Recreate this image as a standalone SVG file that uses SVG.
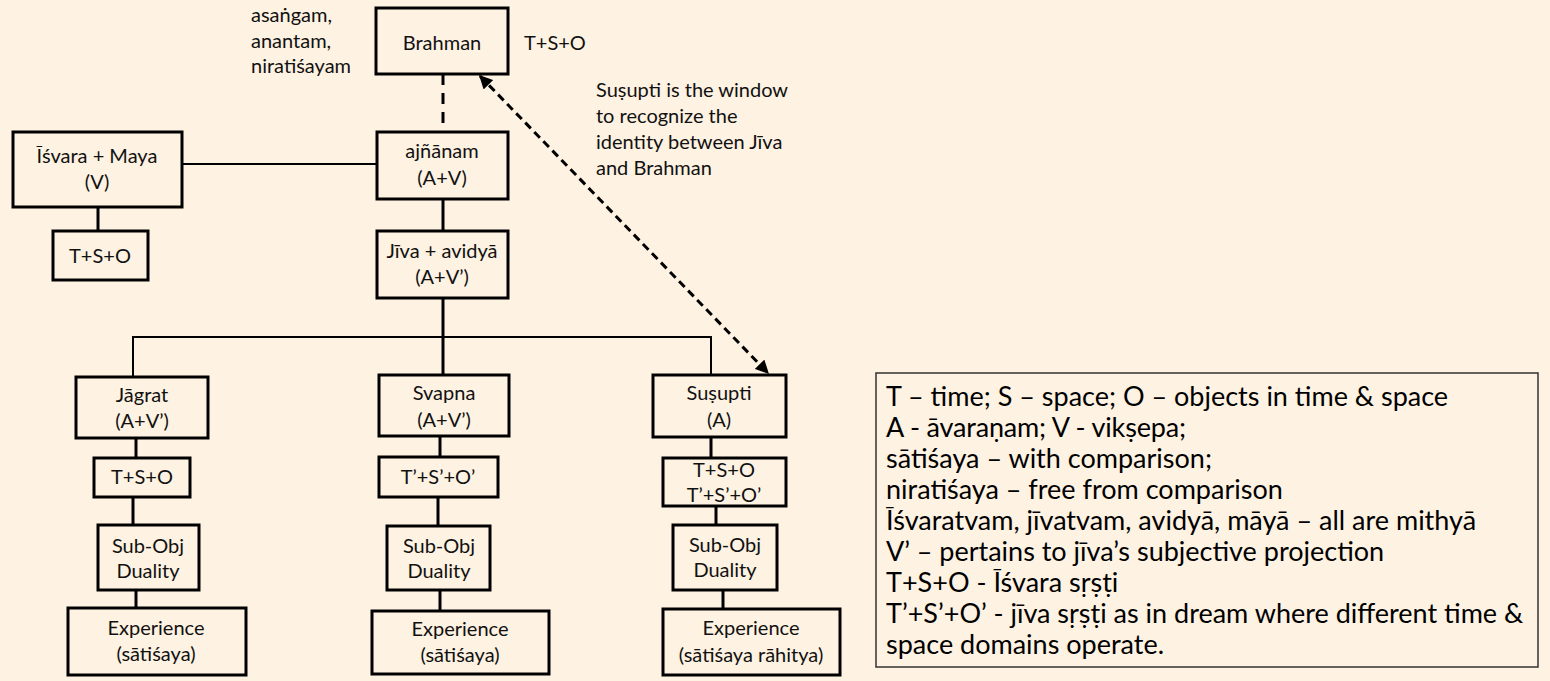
<svg xmlns="http://www.w3.org/2000/svg" width="1550" height="681" viewBox="0 0 1550 681">
<style>
.bx{fill:none;stroke:#000;stroke-width:3}
.t{font-family:Lato,"Liberation Sans",sans-serif;font-size:20px;fill:#111;text-anchor:middle}
.tl{font-family:Lato,"Liberation Sans",sans-serif;font-size:20px;fill:#111}
.lg{font-family:Lato,"Liberation Sans",sans-serif;font-size:27px;fill:#000}
.c{stroke:#000;stroke-width:3;fill:none}
.c2{stroke:#000;stroke-width:2;fill:none}
</style>
<defs>
<marker id="ah" viewBox="0 0 10 10" refX="9" refY="5" markerWidth="4.5" markerHeight="4.5" orient="auto-start-reverse" markerUnits="strokeWidth">
<path d="M0,0 L10,5 L0,10 z" fill="#000"/>
</marker>
</defs>
<rect width="1550" height="681" fill="#FEF2E2"/>

<g id="connectors">
<line class="c" x1="443" y1="74" x2="443" y2="132" stroke-dasharray="11 8"/>
<line class="c" x1="480" y1="76" x2="768" y2="373" stroke-dasharray="8 5" marker-start="url(#ah)" marker-end="url(#ah)"/>
<line class="c2" x1="182" y1="164" x2="377" y2="164" stroke-width="2.5"/>
<line class="c" x1="98" y1="207" x2="98" y2="231"/>
<line class="c" x1="443" y1="199" x2="443" y2="231"/>
<line class="c" x1="443" y1="298" x2="443" y2="375"/>
<polyline class="c2" points="133,377 133,337 711,337 711,375"/>
<line class="c" x1="136" y1="438" x2="136" y2="458"/>
<line class="c" x1="133" y1="497" x2="133" y2="525"/>
<line class="c" x1="136" y1="590" x2="136" y2="608"/>
<line class="c" x1="440" y1="436" x2="440" y2="457"/>
<line class="c" x1="438" y1="497" x2="438" y2="526"/>
<line class="c" x1="440" y1="590" x2="440" y2="611"/>
<line class="c" x1="711" y1="437" x2="711" y2="458"/>
<line class="c" x1="716" y1="506" x2="716" y2="525"/>
<line class="c" x1="723" y1="590" x2="723" y2="609"/>
</g>

<g id="brahman">
<rect class="bx" x="376" y="8" width="132" height="66"/>
<text class="t" x="442" y="50">Brahman</text>
</g>
<g id="brahman-attrs">
<text class="tl" x="251" y="22">asaṅgam,</text>
<text class="tl" x="251" y="48">anantam,</text>
<text class="tl" x="251" y="73">niratiśayam</text>
</g>
<g id="brahman-tso">
<text class="tl" x="524" y="50">T+S+O</text>
</g>
<g id="caption">
<text class="tl" x="596" y="97">Suṣupti  is the window</text>
<text class="tl" x="596" y="123">to recognize the</text>
<text class="tl" x="596" y="149">identity between Jīva</text>
<text class="tl" x="596" y="175">and Brahman</text>
</g>

<g id="isvara">
<rect class="bx" x="13" y="132" width="169" height="75"/>
<text class="t" x="97" y="163">Īśvara + Maya</text>
<text class="t" x="97" y="189">(V)</text>
</g>
<g id="isvara-tso">
<rect class="bx" x="53" y="231" width="95" height="49"/>
<text class="t" x="100" y="263">T+S+O</text>
</g>
<g id="ajnanam">
<rect class="bx" x="377" y="132" width="131" height="67"/>
<text class="t" x="442" y="158">ajñānam</text>
<text class="t" x="442" y="185">(A+V)</text>
</g>
<g id="jiva">
<rect class="bx" x="377" y="231" width="131" height="67"/>
<text class="t" x="442" y="258">Jīva + avidyā</text>
<text class="t" x="442" y="284">(A+V’)</text>
</g>

<g id="jagrat">
<rect class="bx" x="76" y="377" width="132" height="61"/>
<text class="t" x="142" y="402">Jāgrat</text>
<text class="t" x="142" y="428">(A+V’)</text>
</g>
<g id="jagrat-tso">
<rect class="bx" x="94" y="458" width="96" height="39"/>
<text class="t" x="142" y="484">T+S+O</text>
</g>
<g id="jagrat-dual">
<rect class="bx" x="98" y="525" width="101" height="65"/>
<text class="t" x="148" y="553">Sub-Obj</text>
<text class="t" x="148" y="578">Duality</text>
</g>
<g id="jagrat-exp">
<rect class="bx" x="68" y="608" width="178" height="67"/>
<text class="t" x="156" y="635">Experience</text>
<text class="t" x="156" y="661">(sātiśaya)</text>
</g>

<g id="svapna">
<rect class="bx" x="379" y="375" width="130" height="61"/>
<text class="t" x="444" y="400">Svapna</text>
<text class="t" x="444" y="427">(A+V’)</text>
</g>
<g id="svapna-tso">
<rect class="bx" x="379" y="457" width="119" height="40"/>
<text class="t" x="438" y="484">T’+S’+O’</text>
</g>
<g id="svapna-dual">
<rect class="bx" x="387" y="526" width="103" height="64"/>
<text class="t" x="439" y="553">Sub-Obj</text>
<text class="t" x="439" y="578">Duality</text>
</g>
<g id="svapna-exp">
<rect class="bx" x="372" y="611" width="177" height="63"/>
<text class="t" x="460" y="636">Experience</text>
<text class="t" x="460" y="662">(sātiśaya)</text>
</g>

<g id="susupti">
<rect class="bx" x="653" y="375" width="133" height="62"/>
<text class="t" x="719" y="400">Suṣupti</text>
<text class="t" x="719" y="427">(A)</text>
</g>
<g id="susupti-tso">
<rect class="bx" x="663" y="458" width="123" height="48"/>
<text class="t" x="724" y="477">T+S+O</text>
<text class="t" x="724" y="502">T’+S’+O’</text>
</g>
<g id="susupti-dual">
<rect class="bx" x="673" y="525" width="104" height="65"/>
<text class="t" x="725" y="552">Sub-Obj</text>
<text class="t" x="725" y="577">Duality</text>
</g>
<g id="susupti-exp">
<rect class="bx" x="663" y="609" width="177" height="66"/>
<text class="t" x="751" y="635">Experience</text>
<text class="t" x="751" y="662">(sātiśaya rāhitya)</text>
</g>

<g id="legend">
<rect x="876" y="373" width="662" height="294" fill="#FEF2E2" stroke="#333" stroke-width="1.5"/>
<text class="lg" x="886" y="406">T – time; S – space; O – objects in time &amp; space</text>
<text class="lg" x="886" y="437" textLength="300" lengthAdjust="spacing">A - āvaraṇam; V - vikṣepa;</text>
<text class="lg" x="886" y="468" textLength="326" lengthAdjust="spacing">sātiśaya – with comparison;</text>
<text class="lg" x="886" y="499">niratiśaya – free from comparison</text>
<text class="lg" x="886" y="530">Īśvaratvam, jīvatvam, avidyā, māyā – all are mithyā</text>
<text class="lg" x="886" y="561">V’ – pertains to jīva’s subjective projection</text>
<text class="lg" x="886" y="592">T+S+O - Īśvara sṛṣṭi</text>
<text class="lg" x="886" y="623">T’+S’+O’ - jīva sṛṣṭi as in dream where different time &amp;</text>
<text class="lg" x="886" y="654">space domains operate.</text>
</g>
</svg>
